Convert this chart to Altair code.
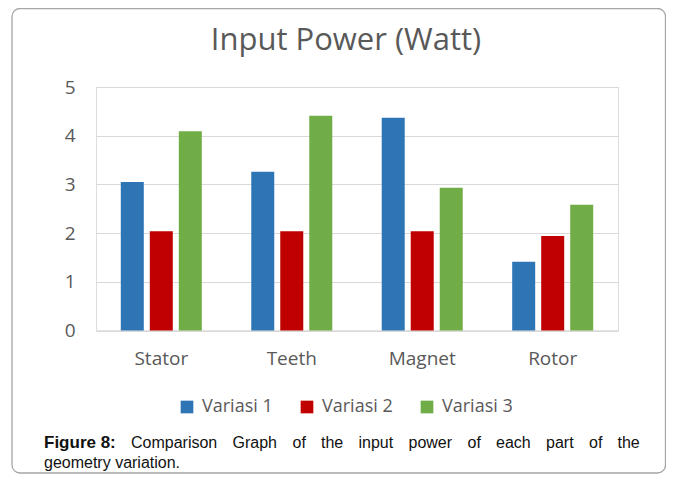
import altair as alt
import pandas as pd

# ---- data ----
categories = ["Stator", "Teeth", "Magnet", "Rotor"]
series = ["Variasi 1", "Variasi 2", "Variasi 3"]
variasi_1 = [3.05, 3.26, 4.37, 1.41]
variasi_2 = [2.04, 2.04, 2.04, 1.94]
variasi_3 = [4.09, 4.41, 2.93, 2.58]
y_ticks = [0, 1, 2, 3, 4, 5]
title_text = "Input Power (Watt)"
caption_line1 = ["Figure 8:", "Comparison", "Graph", "of", "the", "input", "power",
                 "of", "each", "part", "of", "the"]
caption_line2 = "geometry variation."

# ---- styling / layout ----
colors = ["#2E75B6", "#C00000", "#70AD47"]
gray = "#595959"
grid = "#D9D9D9"
W, H = 522, 243.5
# left edges (px, relative to plot origin) of the justified caption words
line1_x = [-52, 35, 136.5, 196.5, 225, 262.5, 312.5, 371.5, 400, 450, 493, 521.5]
line1_y = 361
line2_y = 381
cap_font = "Liberation Sans, Arial"
cap_size = 16

rows = []
for s, vals in zip(series, [variasi_1, variasi_2, variasi_3]):
    for c, v in zip(categories, vals):
        rows.append({"category": c, "series": s, "value": v})
df = pd.DataFrame(rows)
one = pd.DataFrame({"k": [0]})

card = alt.Chart(one).mark_rect(
    filled=False, stroke="#A6A6A6", strokeWidth=1.3, cornerRadius=8
).encode(x=alt.value(-84), x2=alt.value(569.5), y=alt.value(-78.5), y2=alt.value(386))

title = alt.Chart(one).mark_text(
    font="Open Sans", fontSize=31, color=gray, align="center", baseline="alphabetic"
).encode(x=alt.value(250), y=alt.value(-37), text=alt.value(title_text))

bars = alt.Chart(df).mark_bar().encode(
    x=alt.X("category:N", sort=categories, title=None,
            scale=alt.Scale(paddingInner=0.379, paddingOuter=0.19),
            axis=alt.Axis(labelAngle=0, ticks=False, domain=True, domainColor=grid,
                          domainWidth=1, labelPadding=19, labelFont="Open Sans",
                          labelFontSize=19, labelColor=gray)),
    xOffset=alt.XOffset("series:N", sort=series,
                        scale=alt.Scale(paddingInner=0.207, paddingOuter=0)),
    y=alt.Y("value:Q", title=None, scale=alt.Scale(domain=[0, 5]),
            axis=alt.Axis(values=y_ticks, ticks=False, domain=False, gridColor=grid,
                          gridWidth=1, labelPadding=21, labelFont="Open Sans",
                          labelFontSize=19, labelColor=gray)),
    color=alt.Color("series:N", sort=series,
                    scale=alt.Scale(domain=series, range=colors),
                    legend=alt.Legend(title=None, orient="none", legendX=82, legendY=311,
                                      direction="horizontal", symbolType="square",
                                      symbolSize=161, symbolStrokeWidth=0,
                                      labelFont="Open Sans", labelFontSize=18,
                                      labelColor=gray, labelOffset=6, columnPadding=25)),
)

caption_layers = []
for i, (w, px) in enumerate(zip(caption_line1, line1_x)):
    caption_layers.append(
        alt.Chart(one).mark_text(
            align="left", baseline="alphabetic", font=cap_font,
            fontSize=17 if i == 0 else cap_size,
            fontWeight="bold" if i == 0 else "normal", color="#111111"
        ).encode(x=alt.value(px), y=alt.value(line1_y), text=alt.value(w))
    )
caption_layers.append(
    alt.Chart(one).mark_text(
        align="left", baseline="alphabetic", font=cap_font, fontSize=cap_size,
        color="#111111"
    ).encode(x=alt.value(-52), y=alt.value(line2_y), text=alt.value(caption_line2))
)

chart = alt.layer(card, title, bars, *caption_layers).properties(
    width=W, height=H,
    autosize=alt.AutoSizeParams(type="none"),
    padding={"left": 88, "top": 79, "right": 48, "bottom": 144},
).configure_view(stroke=None).configure(background="white")

chart.save("out.html", embed_options={"renderer": "svg", "actions": False})
